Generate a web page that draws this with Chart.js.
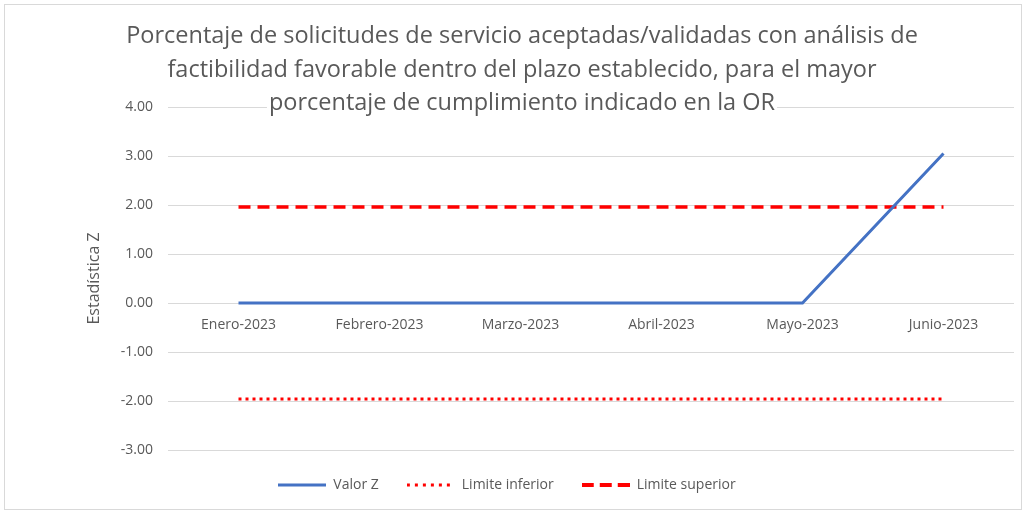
<!DOCTYPE html>
<html>
<head>
<meta charset="utf-8">
<script src="https://cdn.jsdelivr.net/npm/chart.js@4.4.0/dist/chart.umd.min.js"></script>
<style>
  html, body { margin: 0; padding: 0; background: #fff; }
  #wrap { width: 1026px; height: 514px; }
</style>
</head>
<body>
<div id="wrap"><canvas id="myChart" width="1026" height="514"></canvas></div>
<script>
const titleLines = [
    'Porcentaje de solicitudes de servicio aceptadas/validadas con análisis de',
    'factibilidad favorable dentro del plazo establecido, para el mayor',
    'porcentaje de cumplimiento indicado en la OR'
];
const months = ['Enero-2023', 'Febrero-2023', 'Marzo-2023', 'Abril-2023', 'Mayo-2023', 'Junio-2023'];
const valorZ = [0, 0, 0, 0, 0, 3.05];
const limiteInferior = [-1.96, -1.96, -1.96, -1.96, -1.96, -1.96];
const limiteSuperior = [1.96, 1.96, 1.96, 1.96, 1.96, 1.96];

const grey = '#595959';
const gridGrey = '#d9d9d9';
const font = 'Open Sans';

// little line samples for the legend (pointStyle as canvas)
function sample(color, width, dash) {
    const cv = document.createElement('canvas');
    cv.width = 48;
    cv.height = 8;
    const c = cv.getContext('2d');
    c.strokeStyle = color;
    c.lineWidth = width;
    c.setLineDash(dash);
    c.beginPath();
    c.moveTo(0, 4);
    c.lineTo(48, 4);
    c.stroke();
    return cv;
}

// frame + title drawn over the plot, with white behind the text like in Excel
const frameAndTitle = {
    id: 'frameAndTitle',
    beforeDraw(chart) {
        const c = chart.ctx;
        c.save();
        c.fillStyle = '#fff';
        c.fillRect(0, 0, chart.width, chart.height);
        c.strokeStyle = gridGrey;
        c.lineWidth = 1;
        c.strokeRect(4.5, 4.5, chart.width - 9, chart.height - 9);
        c.restore();
    },
    afterDatasetsDraw(chart) {
        const c = chart.ctx;
        c.save();
        c.font = '23.5px "' + font + '"';
        c.textAlign = 'center';
        c.textBaseline = 'alphabetic';
        const cx = 522;
        const baselines = [43, 77, 110];
        titleLines.forEach((t, i) => {
            const w = c.measureText(t).width;
            c.fillStyle = '#fff';
            c.fillRect(cx - w / 2 - 2, baselines[i] - 18, w + 4, 24);
            c.fillStyle = grey;
            c.fillText(t, cx, baselines[i]);
        });
        c.restore();
    }
};

const ctx = document.getElementById('myChart').getContext('2d');
const myChart = new Chart(ctx, {
    type: 'line',
    data: {
        labels: months,
        datasets: [{
            label: 'Valor Z',
            data: valorZ,
            borderColor: '#4472C4',
            backgroundColor: '#4472C4',
            borderWidth: 3,
            pointRadius: 0,
            pointStyle: sample('#4472C4', 3, []),
            tension: 0
        }, {
            label: 'Limite inferior',
            data: limiteInferior,
            borderColor: '#FF0000',
            backgroundColor: '#FF0000',
            borderWidth: 3,
            borderDash: [3, 4],
            pointRadius: 0,
            pointStyle: sample('#FF0000', 3, [3, 5])
        }, {
            label: 'Limite superior',
            data: limiteSuperior,
            borderColor: '#FF0000',
            backgroundColor: '#FF0000',
            borderWidth: 3.5,
            borderDash: [12, 7],
            pointRadius: 0,
            pointStyle: sample('#FF0000', 4, [12, 6])
        }]
    },
    options: {
        responsive: false,
        animation: false,
        layout: { padding: { top: 107, left: 0, right: 12, bottom: 12 } },
        plugins: {
            title: { display: false },
            tooltip: { enabled: false },
            legend: {
                position: 'bottom',
                labels: {
                    usePointStyle: true,
                    pointStyleWidth: 48,
                    padding: 28,
                    color: grey,
                    font: { family: font, size: 14 }
                }
            }
        },
        scales: {
            x: {
                position: { y: 0 },
                offset: true,
                grid: { display: false },
                border: { display: false },
                ticks: {
                    color: grey,
                    padding: 6,
                    maxRotation: 0,
                    font: { family: font, size: 14 }
                }
            },
            y: {
                min: -3,
                max: 4,
                afterFit(scale) { scale.width = 168; },
                grid: { color: gridGrey, drawTicks: false },
                border: { display: false },
                ticks: {
                    stepSize: 1,
                    padding: 15,
                    color: grey,
                    font: { family: font, size: 14 },
                    callback: v => v.toFixed(2)
                },
                title: {
                    display: true,
                    text: 'Estadística Z',
                    color: grey,
                    padding: { top: 85, bottom: 0 },
                    font: { family: font, size: 16 }
                }
            }
        }
    },
    plugins: [frameAndTitle]
});
</script>
</body>
</html>
